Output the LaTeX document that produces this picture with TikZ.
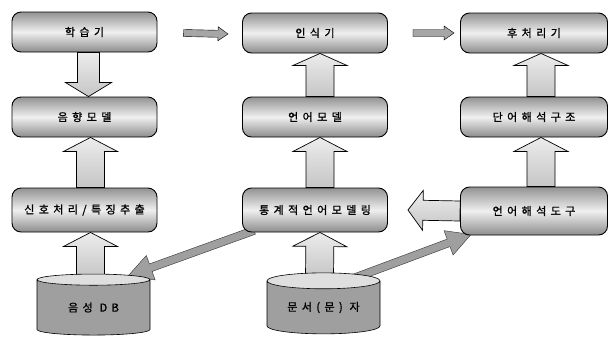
\documentclass[tikz,border=0pt]{standalone}
\usepackage{fontspec}
\newfontfamily\kr[LetterSpace=40,FakeBold=1.2]{Noto Sans CJK KR}
\usetikzlibrary{calc,shapes.geometric,backgrounds}
\newcommand\blockarr[6]{%
  \coordinate (ba-h) at ($(#3)!#6!(#2)$);
  \path[#1] ($(#2)!#4!90:(#3)$) -- ($(ba-h)!#4!90:(#3)$) -- ($(ba-h)!#5!90:(#3)$) -- (#3)
    -- ($(ba-h)!#5!-90:(#3)$) -- ($(ba-h)!#4!-90:(#3)$) -- ($(#2)!#4!-90:(#3)$) -- cycle;}
\tikzset{
  box/.style={draw=black, line width=0.9pt, rounded corners=9pt, minimum width=145pt,
    minimum height=40pt, top color=gray!85, bottom color=gray!90, middle color=gray!12,
    font=\kr\fontsize{11}{13}\selectfont, inner sep=0pt},
  db/.style={cylinder, shape border rotate=90, aspect=0.22, minimum width=113pt,
    minimum height=61pt, draw=black, line width=0.6pt, cylinder uses custom fill,
    cylinder body fill=gray!75, cylinder end fill=gray!25, inner sep=0pt,
    font=\kr\fontsize{11}{13}\selectfont},
  upar/.style={draw=black, line width=0.7pt, top color=gray!15, bottom color=gray!45},
  harr/.style={draw=black, line width=0.4pt, fill=gray!70},
  darr/.style={draw=black!80, line width=0.4pt, fill=gray!75},
}
\begin{document}
\begin{tikzpicture}[x=1pt,y=-1pt]
\useasboundingbox (0,0) rectangle (608,341);
% nodes
\node[box] (learn) at (84.5,32) {학습기};
\node[box] (rec) at (315,33) {인식기};
\node[box, minimum width=147pt] (post) at (534,33) {후처리기};
\node[box] (am) at (84.5,117) {음향모델};
\node[box] (lm) at (315,117) {언어모델};
\node[box, minimum width=147pt] (wa) at (534,117) {단어해석구조};
\node[box, minimum height=44pt] (sig) at (84.5,210) {신호처리/특징추출};
\node[box, minimum height=44pt] (stat) at (315,210) {통계적언어모델링};
\node[box, minimum width=147pt, minimum height=48pt] (tool) at (534,211) {언어해석도구};
\node[db] (db1) at (93.5,307.5) {음성 DB};
\node[db] (corp) at (323.5,307.5) {문서(문) 자};
% connector coordinates
\coordinate (a1s) at ($(learn.south)+(4,0)$);
\coordinate (a1e) at ($(am.north)+(4,0)$);
\coordinate (a2s) at ($(sig.north)+(6,0)$);
\coordinate (a2e) at ($(am.south)+(6,0)$);
\coordinate (a3s) at ($(db1.north)+(-3,4)$);
\coordinate (a3e) at ($(sig.south)+(6,0)$);
\coordinate (b1s) at ($(lm.north)+(5,0)$);
\coordinate (b1e) at ($(rec.south)+(5,0)$);
\coordinate (b2s) at ($(stat.north)+(5,0)$);
\coordinate (b2e) at ($(lm.south)+(5,0)$);
\coordinate (b3s) at ($(corp.north)+(-4,4)$);
\coordinate (b3e) at ($(stat.south)+(5,0)$);
\coordinate (c1s) at ($(wa.north)+(7,0)$);
\coordinate (c1e) at ($(post.south)+(7,0)$);
\coordinate (c2s) at ($(tool.north)+(7,0)$);
\coordinate (c2e) at ($(wa.south)+(7,0)$);
\coordinate (h1s) at ($(learn.east)+(26,1)$);
\coordinate (h1e) at ($(rec.west)+(-14,1)$);
\coordinate (h2s) at ($(rec.east)+(25,0)$);
\coordinate (h2e) at ($(post.west)+(-6,0)$);
\coordinate (d1s) at ($(stat.south west)+(12,-2)$);
\coordinate (d1e) at ($(db1.north east)+(2,1)$);
\coordinate (d2s) at ($(corp.north east)+(-3,4)$);
\coordinate (d2e) at ($(tool.south west)+(11,-1)$);
\coordinate (ls) at (tool.west);
\coordinate (le) at ($(stat.east)+(20,0)$);
\begin{pgfonlayer}{background}
\blockarr{darr}{d1s}{d1e}{4pt}{13pt}{24pt}
\blockarr{darr}{d2s}{d2e}{4pt}{13pt}{24pt}
\blockarr{upar}{a3s}{a3e}{14pt}{27pt}{14pt}
\blockarr{upar}{b3s}{b3e}{14pt}{27pt}{14pt}
\end{pgfonlayer}
\blockarr{upar}{a1s}{a1e}{11pt}{23pt}{14pt}
\blockarr{upar}{a2s}{a2e}{14pt}{27pt}{14pt}
\blockarr{upar}{b1s}{b1e}{14pt}{27pt}{12pt}
\blockarr{upar}{b2s}{b2e}{14pt}{27pt}{14pt}
\blockarr{upar}{c1s}{c1e}{14pt}{27pt}{12pt}
\blockarr{upar}{c2s}{c2e}{14pt}{27pt}{14pt}
\blockarr{upar}{ls}{le}{10pt}{20pt}{15pt}
\blockarr{harr}{h1s}{h1e}{3.5pt}{7pt}{10pt}
\blockarr{harr}{h2s}{h2e}{3.5pt}{7pt}{10pt}
\end{tikzpicture}
\end{document}
